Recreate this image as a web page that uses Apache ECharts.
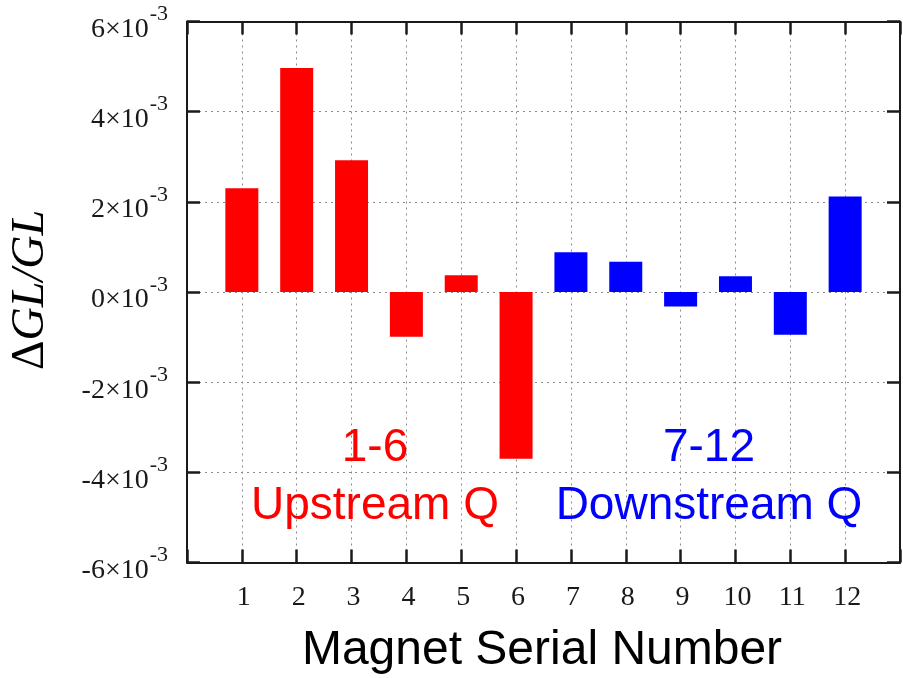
<!DOCTYPE html>
<html>
<head>
<meta charset="utf-8">
<style>
  html, body { margin: 0; padding: 0; background: #ffffff; }
  #chart { width: 903px; height: 678px; }
</style>
<script src="https://cdn.jsdelivr.net/npm/echarts@6/dist/echarts.min.js"></script>
</head>
<body>
<div id="chart"></div>
<script>
// ---- data (values in units of 10^-3) ----
const magnetLabels = ['1','2','3','4','5','6','7','8','9','10','11','12'];
const upstreamValues = [2.30, 4.97, 2.92, -0.99, 0.37, -3.70];
const downstreamValues = [0.88, 0.67, -0.32, 0.35, -0.95, 2.12];
const yTickValues = [-6, -4, -2, 0, 2, 4, 6];
const xAxisTitle = 'Magnet Serial Number';
const upstreamText = ['1-6', 'Upstream Q'];
const downstreamText = ['7-12', 'Downstream Q'];

const upData = upstreamValues.map((v, i) => [i + 1, v]);
const downData = downstreamValues.map((v, i) => [i + 7, v]);

const chart = echarts.init(document.getElementById('chart'), null, { renderer: 'canvas' });

const axisLineStyle = { color: '#1a1a1a', width: 2 };
const tickLineStyle = { color: '#1a1a1a', width: 2.5 };
const gridLine = { show: true, lineStyle: { color: '#8a8a8a', type: [2, 4], width: 1 } };

const serif = '"Liberation Serif", "DejaVu Serif", serif';
const sans = '"Liberation Sans", Arial, sans-serif';

function axisLine() { return { show: true, onZero: false, lineStyle: axisLineStyle }; }
function axisTick() { return { show: true, inside: true, length: 13, lineStyle: tickLineStyle }; }

const option = {
  backgroundColor: '#ffffff',
  animation: false,
  grid: { left: 187, top: 21.5, width: 722, height: 541, containLabel: false },
  xAxis: [
    {
      type: 'value', position: 'bottom', min: 0, max: 13, interval: 1,
      axisLine: axisLine(), axisTick: axisTick(),
      axisLabel: {
        show: true, margin: 21, color: '#1a1a1a',
        fontFamily: serif, fontSize: 28, padding: [0, 0, 0, 4],
        formatter: function (v) { return magnetLabels[v - 1] || ''; }
      },
      splitLine: gridLine
    },
    {
      type: 'value', position: 'top', min: 0, max: 13, interval: 1,
      axisLine: axisLine(), axisTick: axisTick(),
      axisLabel: { show: false },
      splitLine: { show: false }
    }
  ],
  yAxis: [
    {
      type: 'value', position: 'left', min: -6, max: 6, interval: 2,
      axisLine: axisLine(), axisTick: axisTick(),
      axisLabel: {
        show: true, margin: 19, color: '#1a1a1a',
        formatter: function (v) {
          return yTickValues.indexOf(v) >= 0 ? '{a|' + v + '×10}{b|-3}' : '';
        },
        rich: {
          a: { fontFamily: serif, fontSize: 28, color: '#1a1a1a', padding: [16, 0, 0, 0] },
          b: { fontFamily: serif, fontSize: 22, color: '#1a1a1a', padding: [0, 0, 14, 1] }
        }
      },
      splitLine: gridLine
    },
    {
      type: 'value', position: 'right', min: -6, max: 6, interval: 2,
      axisLine: axisLine(), axisTick: axisTick(),
      axisLabel: { show: false },
      splitLine: { show: false }
    }
  ],
  series: [
    {
      name: 'Upstream Q', type: 'bar', xAxisIndex: 0, yAxisIndex: 0,
      data: upData, barWidth: 33, barGap: '-100%',
      itemStyle: { color: '#ff0000' }
    },
    {
      name: 'Downstream Q', type: 'bar', xAxisIndex: 0, yAxisIndex: 0,
      data: downData, barWidth: 33, barGap: '-100%',
      itemStyle: { color: '#0000ff' }
    }
  ],
  graphic: [
    { type: 'text', x: 375, y: 448, z: 100,
      style: { text: upstreamText[0], fill: '#ff0000', font: '46px ' + sans, align: 'center', verticalAlign: 'middle' } },
    { type: 'text', x: 375, y: 506, z: 100,
      style: { text: upstreamText[1], fill: '#ff0000', font: '46px ' + sans, align: 'center', verticalAlign: 'middle' } },
    { type: 'text', x: 709, y: 448, z: 100,
      style: { text: downstreamText[0], fill: '#0000ff', font: '46px ' + sans, align: 'center', verticalAlign: 'middle' } },
    { type: 'text', x: 709, y: 506, z: 100,
      style: { text: downstreamText[1], fill: '#0000ff', font: '46px ' + sans, align: 'center', verticalAlign: 'middle' } },
    { type: 'text', x: 542, y: 651, z: 100,
      style: { text: xAxisTitle, fill: '#000000', font: '48px ' + sans, align: 'center', verticalAlign: 'middle' } },
    { type: 'text', x: 31, y: 290, rotation: Math.PI / 2, z: 100,
      style: {
        text: '{d|Δ}{i|GL/GL}', align: 'center', verticalAlign: 'middle',
        rich: {
          d: { fontFamily: serif, fontSize: 46, fill: '#000' },
          i: { fontFamily: serif, fontSize: 46, fontStyle: 'italic', fill: '#000' }
        }
      } }
  ]
};

chart.setOption(option);
</script>
</body>
</html>
